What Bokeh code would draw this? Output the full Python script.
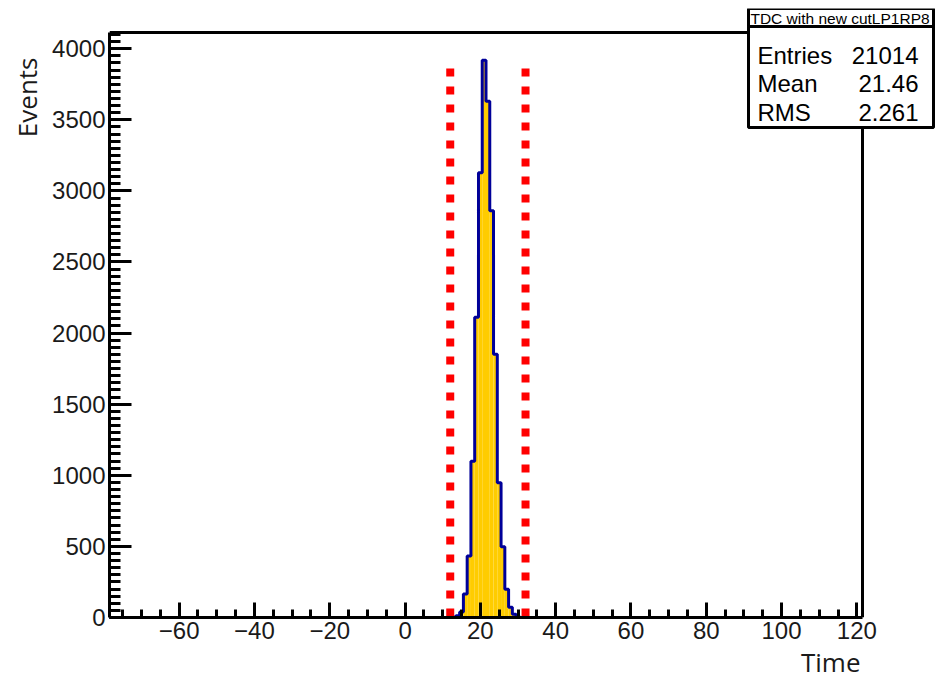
import numpy as np
from bokeh.plotting import figure
from bokeh.models import Range1d, SingleIntervalTicker, Label, BoxAnnotation, Title
from bokeh.embed import file_html
from bokeh.resources import INLINE

# ---- data ----
time_bins = [13, 14, 15, 16, 17, 18, 19, 20, 21, 22, 23, 24, 25, 26, 27, 28, 29, 30]
counts = [4, 12, 38, 165, 432, 1098, 2112, 3128, 3918, 3630, 2860, 1852, 948, 497, 199, 72, 22, 6]
bin_width = 1.0
x_lo, x_hi = -78.5, 121.5
x_ticks = [-60, -40, -20, 0, 20, 40, 60, 80, 100, 120]
x_tick_labels = ["\u221260", "\u221240", "\u221220", "0", "20", "40", "60", "80", "100", "120"]
y_ticks = [0, 500, 1000, 1500, 2000, 2500, 3000, 3500, 4000]
cut_lines = [12, 32]
cut_top = 3860
stats_title = "TDC with new cutLP1RP8"
stats_names = ["Entries", "Mean", "RMS"]
stats_values = ["21014", "21.46", "2.261"]
x_title = "Time"
y_title = "Events"

# ---- layout (pixels) ----
W, H = 935, 685
FR_L, FR_R, FR_T, FR_B = 109, 862, 32, 617   # ROOT frame
CANVAS_T = 8                                  # stats box reaches up here

y_max = 1.05 * max(counts)
x_ext = x_hi + (W - FR_R) * (x_hi - x_lo) / (FR_R - FR_L)
y_ext = y_max * (FR_B - CANVAS_T) / (FR_B - FR_T)

p = figure(width=W, height=H, output_backend="svg", toolbar_location=None,
           x_range=Range1d(x_lo, x_ext), y_range=Range1d(0, y_ext),
           min_border_left=FR_L, min_border_right=0, min_border_top=CANVAS_T,
           min_border_bottom=H - FR_B,
           background_fill_color="white", border_fill_color="white")
p.title.visible = False
p.xgrid.visible = False
p.ygrid.visible = False
p.outline_line_color = None

# ROOT frame (top and right edges)
p.segment(x0=[x_lo, x_hi], y0=[y_max, 0], x1=[x_hi, x_hi], y1=[y_max, y_max],
          line_color="black", line_width=3)

# histogram fill and outline
left = [c - bin_width / 2 for c in time_bins]
right = [c + bin_width / 2 for c in time_bins]
p.quad(left=left, right=right, bottom=0, top=counts, fill_color="#ffcc00", line_color=None)
xs, ys = [left[0]], [0]
for l, r, c in zip(left, right, counts):
    xs += [l, r]
    ys += [c, c]
xs.append(right[-1]); ys.append(0)
p.line(xs, ys, line_color="#000099", line_width=3)

# cut lines
p.segment(x0=cut_lines, y0=[cut_top] * len(cut_lines), x1=cut_lines, y1=[0] * len(cut_lines),
          line_color="#ff0000", line_width=8, line_dash="8 10")

# axes
xa = p.xaxis[0]
xa.ticker = SingleIntervalTicker(interval=20, num_minor_ticks=4)
xa.major_label_overrides = {t: s for t, s in zip(x_ticks, x_tick_labels)}
xa.bounds = (x_lo, x_hi)
ya = p.yaxis[0]
ya.ticker = SingleIntervalTicker(interval=500, num_minor_ticks=10)
ya.bounds = (0, y_max)
for ax, mj, mn in ((xa, 15, 8), (ya, 22, 11)):
    ax.axis_line_width = 3
    ax.axis_line_color = "black"
    ax.major_tick_line_width = 3
    ax.minor_tick_line_width = 3
    ax.major_tick_line_color = "black"
    ax.minor_tick_line_color = "black"
    ax.major_tick_in = mj
    ax.major_tick_out = 0
    ax.minor_tick_in = mn
    ax.minor_tick_out = 0
    ax.major_label_text_font = "Liberation Sans"
    ax.major_label_text_font_size = "24px"
    ax.major_label_text_color = "#1a1a1a"
    ax.major_label_standoff = 4

# axis titles (ROOT style: aligned at the end)
t_time = Title(text=x_title, align="right", offset=W - 860, text_font="Open Sans",
               text_font_size="26px", text_font_style="normal", text_color="#1a1a1a")
t_events = Title(text=y_title, align="right", offset=57 - CANVAS_T, text_font="Open Sans",
                 text_font_size="26px", text_font_style="normal", text_color="#1a1a1a")
if "standoff" in Title.properties():
    t_time.standoff = 0
p.add_layout(t_time, "below")
p.add_layout(t_events, "left")

# stats box
box_l, box_r = 748, 933
hdr_b, box_b = 26, 127
for t, b in ((CANVAS_T, hdr_b), (hdr_b, box_b)):
    p.add_layout(BoxAnnotation(left=box_l, right=box_r, top=t, bottom=b,
                               left_units="canvas", right_units="canvas",
                               top_units="canvas", bottom_units="canvas",
                               fill_color="white", fill_alpha=1, line_color="black",
                               line_width=3, line_alpha=1))
p.add_layout(Label(x=(box_l + box_r) / 2 - 1, y=(CANVAS_T + hdr_b) / 2 + 1, x_units="canvas", y_units="canvas",
                   text=stats_title, text_align="center", text_baseline="middle",
                   text_font="Liberation Sans", text_font_size="15.5px", text_color="black"))
row_y = [55, 83, 112]
for name, val, yy in zip(stats_names, stats_values, row_y):
    p.add_layout(Label(x=757, y=yy, x_units="canvas", y_units="canvas", text=name,
                       text_align="left", text_baseline="middle", text_font="Liberation Sans",
                       text_font_size="24px", text_color="black"))
    p.add_layout(Label(x=918, y=yy, x_units="canvas", y_units="canvas", text=val,
                       text_align="right", text_baseline="middle", text_font="Liberation Sans",
                       text_font_size="24px", text_color="black"))

open("out.html", "w").write(file_html(p, INLINE))
